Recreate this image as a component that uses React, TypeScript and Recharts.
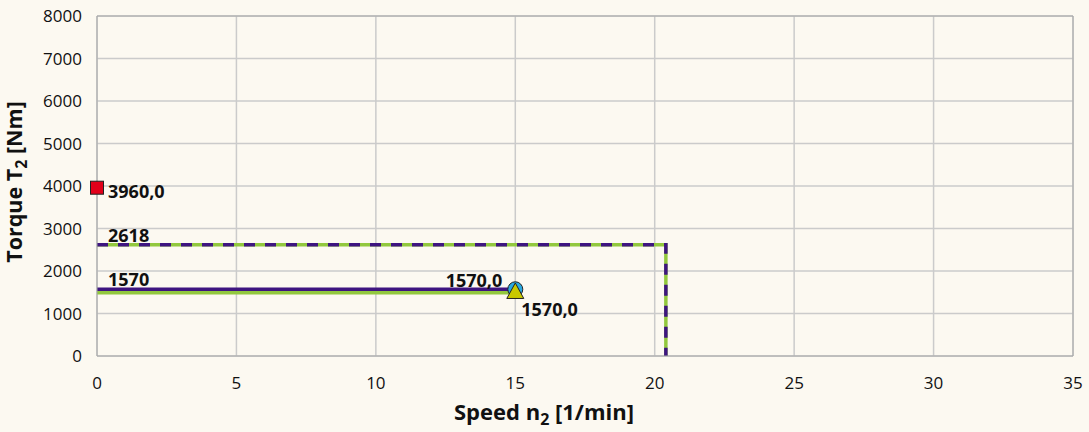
import React from 'react';
import { ComposedChart, Line, Scatter, XAxis, YAxis, CartesianGrid, ReferenceLine } from 'recharts';

const xTicks = [0, 5, 10, 15, 20, 25, 30, 35];
const yTicks = [0, 1000, 2000, 3000, 4000, 5000, 6000, 7000, 8000];

// Max torque envelope (dashed purple / green)
const maxSpeed = [0, 20.4, 20.4];
const maxTorque = [2618, 2618, 0];

// Rated torque lines
const ratedPurpleSpeed = [0, 15];
const ratedPurpleTorque = [1570, 1570];
const ratedGreenSpeed = [0, 15];
const ratedGreenTorque = [1490, 1490];

// Operating points
const peakSpeed = [0];
const peakTorque = [3960];
const peakLabels = ['3960,0'];
const circleSpeed = [15];
const circleTorque = [1570];
const circleLabels = ['1570,0'];
const triSpeed = [15];
const triTorque = [1530];
const triLabels = ['1570,0'];

const zip = (xs: number[], ys: number[], labels?: string[]) =>
  xs.map((x, i) => ({ x, y: ys[i], label: labels ? labels[i] : String(ys[i]) }));

const maxData = zip(maxSpeed, maxTorque);
const purpleData = zip(ratedPurpleSpeed, ratedPurpleTorque);
const greenData = zip(ratedGreenSpeed, ratedGreenTorque);
const peakData = zip(peakSpeed, peakTorque, peakLabels);
const circleData = zip(circleSpeed, circleTorque, circleLabels);
const triData = zip(triSpeed, triTorque, triLabels);

const FONT = '"Open Sans", "Noto Sans", sans-serif';
const PURPLE = '#3E1580';
const GREEN = '#92C83E';
const BG = '#FCF9F1';
const LBL = 18;

const startLabel = (props: any) => {
  if (props.index !== 0) return null;
  return (
    <text x={props.x + 11} y={props.y - 3} fontFamily={FONT} fontWeight={700} fontSize={LBL} fill="#111">
      {props.value}
    </text>
  );
};

const squareShape = (p: any) => (
  <g>
    <rect x={p.cx - 6.5} y={p.cy - 6.5} width={13} height={13} fill="#E2001A" stroke="#222" strokeWidth={1} />
    <text x={p.cx + 11} y={p.cy + 10} fontFamily={FONT} fontWeight={700} fontSize={LBL} fill="#111">
      {p.payload.label}
    </text>
  </g>
);

const circleShape = (p: any) => (
  <g>
    <circle cx={p.cx} cy={p.cy} r={7.5} fill="#29A8E0" stroke="#222" strokeWidth={1} />
    <text x={p.cx - 13} y={p.cy - 2} textAnchor="end" fontFamily={FONT} fontWeight={700} fontSize={LBL} fill="#111">
      {p.payload.label}
    </text>
  </g>
);

const triShape = (p: any) => (
  <g>
    <path
      d={`M${p.cx},${p.cy - 8} L${p.cx + 8.5},${p.cy + 7.5} L${p.cx - 8.5},${p.cy + 7.5} Z`}
      fill="#C8C800"
      stroke="#222"
      strokeWidth={1}
    />
    <text x={p.cx + 6} y={p.cy + 25} fontFamily={FONT} fontWeight={700} fontSize={LBL} fill="#111">
      {p.payload.label}
    </text>
  </g>
);

const xTitle = () => (
  <text x={544} y={420} textAnchor="middle" fontFamily={FONT} fontWeight={700} fontSize={22} fill="#111">
    Speed n<tspan fontSize={16} dy={5}>2</tspan>
    <tspan dy={-5}> [1/min]</tspan>
  </text>
);

const yTitle = () => (
  <text
    x={0}
    y={0}
    transform="translate(22,182) rotate(-90)"
    textAnchor="middle"
    fontFamily={FONT}
    fontWeight={700}
    fontSize={21.5}
    fill="#111"
  >
    Torque T<tspan fontSize={16} dy={5}>2</tspan>
    <tspan dy={-5}> [Nm]</tspan>
  </text>
);

export default function App() {
  return (
    <div style={{ position: 'absolute', left: 0, top: 0, width: 1089, height: 432, background: BG }}>
      <ComposedChart width={1089} height={432} margin={{ top: 16, right: 16, bottom: 0, left: 0 }}>
        <CartesianGrid stroke="#CBCBCB" strokeWidth={1.5} />
        <XAxis
          type="number"
          dataKey="x"
          domain={[0, 35]}
          ticks={xTicks}
          height={76}
          tickSize={0}
          tickMargin={21}
          axisLine={{ stroke: '#A6A6A6', strokeWidth: 1 }}
          tickLine={false}
          tick={{ fontFamily: FONT, fontSize: 17, fill: '#111' }}
          label={{ content: xTitle }}
        />
        <YAxis
          type="number"
          dataKey="y"
          domain={[0, 8000]}
          ticks={yTicks}
          width={97}
          tickSize={0}
          tickMargin={15}
          axisLine={{ stroke: '#A6A6A6', strokeWidth: 1 }}
          tickLine={false}
          tick={{ fontFamily: FONT, fontSize: 17, fill: '#111' }}
          label={{ content: yTitle }}
        />
        <ReferenceLine x={35} stroke="#A6A6A6" strokeWidth={1} />
        <ReferenceLine y={8000} stroke="#A6A6A6" strokeWidth={1} />
        <Line
          data={maxData}
          dataKey="y"
          stroke={GREEN}
          strokeWidth={3.5}
          dot={false}
          activeDot={false}
          isAnimationActive={false}
          type="linear"
        />
        <Line
          data={maxData}
          dataKey="y"
          stroke={PURPLE}
          strokeWidth={3.5}
          strokeDasharray="11 10"
          dot={false}
          activeDot={false}
          isAnimationActive={false}
          type="linear"
          label={startLabel}
        />
        <Line
          data={greenData}
          dataKey="y"
          stroke={GREEN}
          strokeWidth={3.5}
          dot={false}
          activeDot={false}
          isAnimationActive={false}
          type="linear"
        />
        <Line
          data={purpleData}
          dataKey="y"
          stroke={PURPLE}
          strokeWidth={3.5}
          dot={false}
          activeDot={false}
          isAnimationActive={false}
          type="linear"
          label={startLabel}
        />
        <Scatter data={peakData} dataKey="y" shape={squareShape} isAnimationActive={false} />
        <Scatter data={circleData} dataKey="y" shape={circleShape} isAnimationActive={false} />
        <Scatter data={triData} dataKey="y" shape={triShape} isAnimationActive={false} />
      </ComposedChart>
    </div>
  );
}
